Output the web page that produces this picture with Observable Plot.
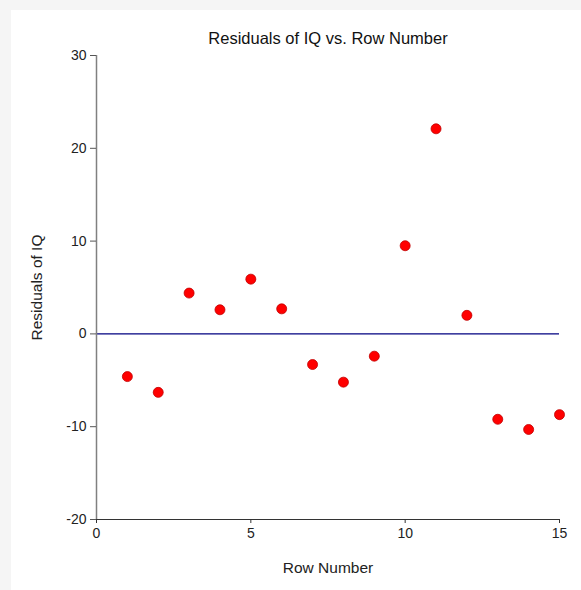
<!DOCTYPE html>
<html>
<head>
<meta charset="utf-8">
<script src="https://cdn.jsdelivr.net/npm/d3@7"></script>
<script src="https://cdn.jsdelivr.net/npm/@observablehq/plot@0.6"></script>
<style>
  html, body { margin: 0; padding: 0; background: #f5f5f5; width: 581px; height: 590px; overflow: hidden; }
  #panel { position: absolute; left: 11px; top: 10px; width: 570px; height: 580px; background: #fff; }
</style>
</head>
<body>
<div id="panel"></div>
<script>
const title = "Residuals of IQ vs. Row Number";
const xLabel = "Row Number";
const yLabel = "Residuals of IQ";
const rowNumbers = [1, 2, 3, 4, 5, 6, 7, 8, 9, 10, 11, 12, 13, 14, 15];
const residuals = [-4.6, -6.3, 4.4, 2.6, 5.9, 2.7, -3.3, -5.2, -2.4, 9.5, 22.1, 2.0, -9.2, -10.3, -8.7];
const xTicks = [0, 5, 10, 15];
const yTicks = [-20, -10, 0, 10, 20, 30];

const data = rowNumbers.map((r, i) => ({row: r, res: residuals[i]}));
const fmt = d => String(d);

const chart = Plot.plot({
  width: 570,
  height: 580,
  marginLeft: 85,
  marginRight: 22,
  marginTop: 45,
  marginBottom: 71,
  style: {fontFamily: "'Liberation Sans', Arial, sans-serif", fontSize: "14px", background: "#fff", color: "#222"},
  x: {domain: [0, 15]},
  y: {domain: [-20, 30]},
  marks: [
    Plot.ruleY([0], {stroke: "#000080", strokeWidth: 1.2}),
    Plot.ruleX([0], {stroke: "#808080", strokeWidth: 1.5}),
    Plot.ruleY([-20], {stroke: "#333", strokeWidth: 1.2}),
    Plot.axisY({ticks: yTicks, tickFormat: fmt, tickSize: 6, tickPadding: 4, stroke: "#555", fontSize: 14, label: null}),
    Plot.axisY({ticks: [], label: yLabel, labelAnchor: "center", labelArrow: "none", labelOffset: 66, fontSize: 15.5}),
    Plot.axisX({ticks: xTicks, tickFormat: fmt, tickSize: 4, tickPadding: 5, stroke: "#333", fontSize: 14, label: null}),
    Plot.axisX({ticks: [], label: xLabel, labelAnchor: "center", labelArrow: "none", labelOffset: 53, fontSize: 15.5}),
    Plot.dot(data, {x: "row", y: "res", r: 5, fill: "#ff0000", stroke: "#c00000", strokeWidth: 0.8}),
    Plot.text([title], {frameAnchor: "top", dy: -23, fontSize: 16.5, fill: "#111"})
  ]
});
document.getElementById("panel").appendChild(chart);
</script>
</body>
</html>
